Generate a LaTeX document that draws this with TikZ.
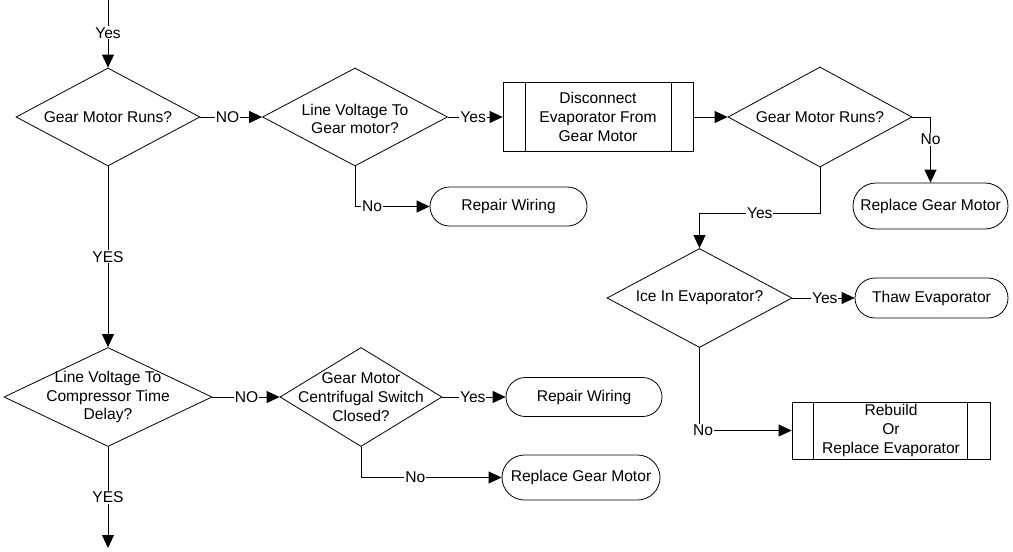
\documentclass[tikz,border=0pt]{standalone}
\usepackage{fontspec}
\setmainfont{Liberation Sans}
\usetikzlibrary{shapes.geometric,arrows.meta,calc}
\begin{document}
\begin{tikzpicture}[x=1pt,y=-1pt,
  font=\fontsize{15.6}{18.8}\selectfont,
  line width=0.8pt,
  dia/.style={draw, diamond, inner sep=0pt},
  term/.style={draw, rectangle, rounded corners=#1, inner sep=0pt},
  proc/.style={draw, rectangle, inner sep=0pt, align=center},
  txt/.style={align=center, inner sep=0pt},
  lbl/.style={fill=white, inner sep=1pt},
  conn/.style={-{Triangle[length=13pt,width=12pt]}},
  ]
\useasboundingbox (0,0) rectangle (1013,552);

% nodes
\node[dia, minimum width=184pt, minimum height=98pt] (D1) at (108,117) {};
\node[txt] (D1t) at (D1) {Gear Motor Runs?};
\node[dia, minimum width=185pt, minimum height=98pt] (D2) at (355,117) {};
\node[txt] (D2t) at ([yshift=-2pt]D2.center) {Line Voltage To\\Gear motor?};
\node[proc, minimum width=190pt, minimum height=69pt] (P1) at (598,117) {Disconnect\\Evaporator From\\Gear Motor};
\draw ([xshift=23pt]P1.north west) -- ([xshift=23pt]P1.south west);
\draw ([xshift=-22pt]P1.north east) -- ([xshift=-22pt]P1.south east);
\node[dia, minimum width=184pt, minimum height=100pt] (D3) at (820,117) {};
\node[txt] (D3t) at (D3) {Gear Motor Runs?};
\node[term=23pt, minimum width=155pt, minimum height=46pt] (RGM1) at (930.5,206) {Replace Gear Motor};
\node[term=19.5pt, minimum width=157pt, minimum height=39pt] (RW1) at (508.5,206.5) {Repair Wiring};
\node[dia, minimum width=185pt, minimum height=99pt] (D4) at (699.5,298) {};
\node[txt] (D4t) at (D4) {Ice In Evaporator?};
\node[term=20pt, minimum width=153pt, minimum height=40pt] (TE) at (931.5,298) {Thaw Evaporator};
\node[proc, minimum width=198pt, minimum height=57pt] (P2) at (891,430.5) {Rebuild\\Or\\Replace Evaporator};
\draw ([xshift=22pt]P2.north west) -- ([xshift=22pt]P2.south west);
\draw ([xshift=-23pt]P2.north east) -- ([xshift=-23pt]P2.south east);
\node[dia, minimum width=208pt, minimum height=99pt] (D5) at (108,397) {};
\node[txt] (D5t) at (D5) {Line Voltage To\\Compressor Time\\Delay?};
\node[dia, minimum width=162pt, minimum height=99pt] (D6) at (361,397) {};
\node[txt] (D6t) at (D6) {Gear Motor\\Centrifugal Switch\\Closed?};
\node[term=19.5pt, minimum width=156pt, minimum height=39pt] (RW2) at (584,397) {Repair Wiring};
\node[term=22.5pt, minimum width=158pt, minimum height=45pt] (RGM2) at (581,477.5) {Replace Gear Motor};

% connectors
\coordinate (top) at (108,0);
\draw[conn] (top) -- node[lbl,pos=0.485]{Yes} (D1.north);
\draw[conn] (D1.east) -- node[lbl,pos=0.44]{NO} (D2.west);
\draw[conn] (D2.east) -- node[lbl,pos=0.46]{Yes} (P1.west);
\draw[conn] (D2.south) |- node[lbl,pos=0.615]{No} (RW1.west);
\draw[conn] (P1.east) -- (D3.west);
\draw[conn] (D3.east) -| node[lbl,pos=0.67]{No} (RGM1.north);
\coordinate (c1) at (820,213);
\draw[conn] (D3.south) -- (c1) -| node[lbl,pos=0.25]{Yes} (D4.north);
\draw[conn] (D4.east) -- node[lbl,pos=0.52]{Yes} (TE.west);
\draw[conn] (D4.south) |- node[lbl,pos=0.52]{No} (P2.west);
\draw[conn] (D1.south) -- node[lbl,pos=0.5]{YES} (D5.north);
\draw[conn] (D5.east) -- node[lbl,pos=0.51]{NO} (D6.west);
\draw[conn] (D6.east) -- node[lbl,pos=0.48]{Yes} (RW2.west);
\draw[conn] (D6.south) |- node[lbl,pos=0.693]{No} (RGM2.west);
\coordinate (bot) at (108,548);
\draw[conn] (D5.south) -- node[lbl,pos=0.5]{YES} (bot);
\end{tikzpicture}
\end{document}
